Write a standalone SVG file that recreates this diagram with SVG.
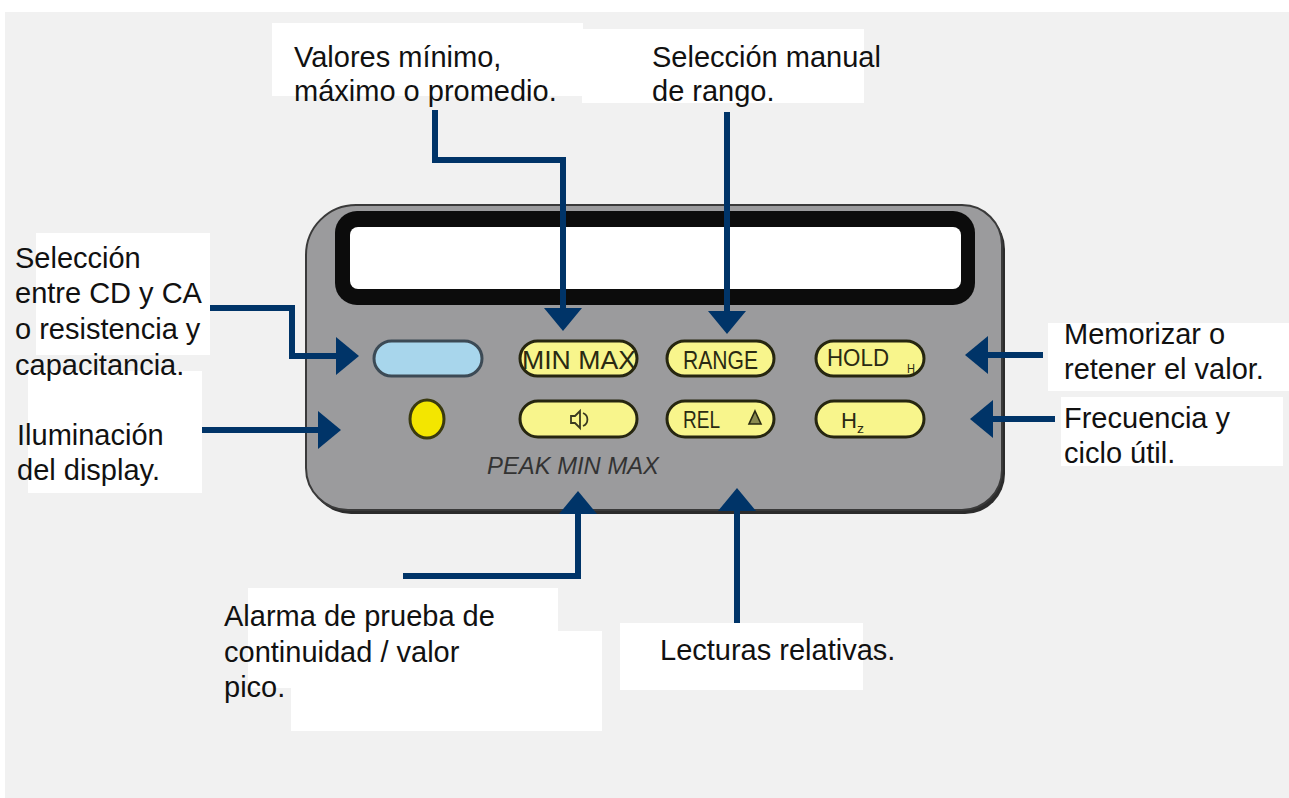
<svg xmlns="http://www.w3.org/2000/svg" width="1289" height="798" viewBox="0 0 1289 798">
  <style>
    .lbl { font-family: "Liberation Sans", Arial, sans-serif; font-size: 29px; fill: #111; }
    .box { fill: #fff; }
    .conn { fill: none; stroke: #003468; stroke-width: 6; stroke-linejoin: miter; }
    .btn { fill: #f8f58c; stroke: #262610; stroke-width: 3; }
    .btxt { font-family: "Liberation Sans", Arial, sans-serif; fill: #2a2a12; }
  </style>
  <defs>
    <marker id="head" markerUnits="userSpaceOnUse" markerWidth="24" markerHeight="38" viewBox="0 0 24 38" refX="0" refY="19" orient="auto" overflow="visible">
      <path d="M0,0 L23,19 L0,38 Z" fill="#003468"/>
    </marker>
  </defs>

  <!-- page -->
  <rect x="0" y="0" width="1289" height="798" fill="#fff"/>
  <rect x="5" y="12" width="1284" height="786" fill="#f1f1f1"/>

  <!-- meter front panel -->
  <g id="panel">
    <path d="M 359 209 H 965 A 40 40 0 0 1 1005 249 V 474 A 40 40 0 0 1 965 514 H 351 A 42 42 0 0 1 309 472 V 259 A 50 50 0 0 1 359 209 Z" fill="#2c2c2c"/>
    <path d="M 356 205 H 962 A 40 40 0 0 1 1002 245 V 470 A 40 40 0 0 1 962 510 H 348 A 42 42 0 0 1 306 468 V 255 A 50 50 0 0 1 356 205 Z" fill="#9b9b9d" stroke="#3a3a3a" stroke-width="2"/>
    <rect x="335" y="211" width="640" height="94" rx="22" fill="#0c0c0c"/>
    <rect x="350" y="227" width="611" height="62" rx="8" fill="#fff"/>
  </g>

  <g id="btn-acdc">
    <rect x="374" y="341" width="108" height="35" rx="17.5" fill="#a8d6ec" stroke="#3c4a55" stroke-width="3"/>
  </g>
  <g id="btn-minmax">
    <rect class="btn" x="520" y="341" width="117" height="35" rx="17.5"/>
    <text class="btxt" x="522" y="369" font-size="25" textLength="114" lengthAdjust="spacingAndGlyphs">MIN  MAX</text>
  </g>
  <g id="btn-range">
    <rect class="btn" x="667" y="341" width="107" height="35" rx="17.5"/>
    <text class="btxt" x="683" y="369" font-size="25" textLength="75" lengthAdjust="spacingAndGlyphs">RANGE</text>
  </g>
  <g id="btn-hold">
    <rect class="btn" x="816" y="341" width="108" height="35" rx="17.5"/>
    <text class="btxt" x="827" y="366" font-size="24" textLength="62" lengthAdjust="spacingAndGlyphs">HOLD</text>
    <text class="btxt" x="907" y="373" font-size="13" textLength="8" lengthAdjust="spacingAndGlyphs">H</text>
  </g>
  <g id="led">
    <ellipse cx="427" cy="419" rx="17" ry="19" fill="#f3e600" stroke="#3a3a10" stroke-width="3"/>
  </g>
  <g id="btn-beep">
    <rect class="btn" x="520" y="401" width="117" height="36" rx="18"/>
    <!-- speaker symbol -->
    <path d="M 571 416 H 575 L 580 411 V 428 L 575 423 H 571 Z" fill="none" stroke="#3a3a20" stroke-width="1.8"/>
    <path d="M 583 413 A 7 7 0 0 1 583 426" fill="none" stroke="#3a3a20" stroke-width="1.8"/>
  </g>
  <g id="btn-rel">
    <rect class="btn" x="667" y="401" width="107" height="36" rx="18"/>
    <text class="btxt" x="683" y="428" font-size="24" textLength="37" lengthAdjust="spacingAndGlyphs">REL</text>
    <path d="M 755 411 L 761 424 H 749 Z" fill="#8a8a50" stroke="#2a2a12" stroke-width="1.6"/>
  </g>
  <g id="btn-hz">
    <rect class="btn" x="816" y="401" width="108" height="36" rx="18"/>
    <text class="btxt" x="841" y="428" font-size="22" textLength="16" lengthAdjust="spacingAndGlyphs">H</text>
    <text class="btxt" x="857" y="433" font-size="13" textLength="7" lengthAdjust="spacingAndGlyphs">z</text>
  </g>
  <g id="peak-caption">
    <text x="487" y="474" font-family="'Liberation Sans', Arial, sans-serif" font-style="italic" font-size="23" fill="#333" textLength="172" lengthAdjust="spacingAndGlyphs">PEAK MIN MAX</text>
  </g>

  <!-- callout labels -->
  <g id="label-minmax">
    <rect class="box" x="272" y="23" width="311" height="73"/>
    <text class="lbl" x="294" y="67">Valores mínimo,</text>
    <text class="lbl" x="294" y="101">máximo o promedio.</text>
  </g>
  <g id="label-range">
    <rect class="box" x="582" y="29" width="282" height="74"/>
    <text class="lbl" x="652" y="67">Selección manual</text>
    <text class="lbl" x="652" y="101">de rango.</text>
  </g>
  <g id="label-light">
    <rect class="box" x="28" y="371" width="174" height="122"/>
    <text class="lbl" x="17" y="445">Iluminación</text>
    <text class="lbl" x="17" y="480">del display.</text>
  </g>
  <g id="label-acdc">
    <rect class="box" x="36" y="233" width="174" height="122"/>
    <text class="lbl" x="15" y="268">Selección</text>
    <text class="lbl" x="15" y="303">entre CD y CA</text>
    <text class="lbl" x="15" y="339">o resistencia y</text>
    <text class="lbl" x="15" y="375">capacitancia.</text>
  </g>
  <g id="label-hold">
    <rect class="box" x="1048" y="323" width="241" height="68"/>
    <text class="lbl" x="1064" y="344">Memorizar o</text>
    <text class="lbl" x="1064" y="379">retener el valor.</text>
  </g>
  <g id="label-hz">
    <rect class="box" x="1061" y="397" width="222" height="69"/>
    <text class="lbl" x="1064" y="428">Frecuencia y</text>
    <text class="lbl" x="1064" y="463">ciclo útil.</text>
  </g>
  <g id="label-beep">
    <path class="box" d="M 248 588 H 558 V 631 H 602 V 731 H 291 V 688 H 248 Z"/>
    <text class="lbl" x="224" y="626">Alarma de prueba de</text>
    <text class="lbl" x="224" y="662">continuidad / valor</text>
    <text class="lbl" x="224" y="697">pico.</text>
  </g>
  <g id="label-rel">
    <rect class="box" x="620" y="623" width="243" height="67"/>
    <text class="lbl" x="660" y="660">Lecturas relativas.</text>
  </g>

  <!-- connectors -->
  <g id="connectors">
    <polyline class="conn" points="435,110 435,160 563,160 563,308" marker-end="url(#head)"/>
    <polyline class="conn" points="727,112 727,311" marker-end="url(#head)"/>
    <polyline class="conn" points="210,308 292,308 292,356 336,356" marker-end="url(#head)"/>
    <polyline class="conn" points="202,430 318,430" marker-end="url(#head)"/>
    <polyline class="conn" points="1043,355 988,355" marker-end="url(#head)"/>
    <polyline class="conn" points="1055,419 993,419" marker-end="url(#head)"/>
    <polyline class="conn" points="403,576 578,576 578,514" marker-end="url(#head)"/>
    <polyline class="conn" points="737,623 737,511" marker-end="url(#head)"/>
  </g>
</svg>
